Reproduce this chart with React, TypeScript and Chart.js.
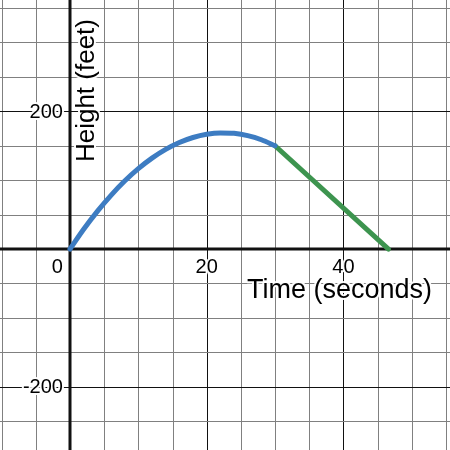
import React, { useEffect, useRef } from "react";
import { Chart, registerables } from "chart.js";

Chart.register(...registerables);

// Blue curve (rising/arc part): time (s) and height (ft)
const blueTime = [0, 2, 4, 6, 8, 10, 12, 14, 16, 18, 20, 22, 24, 26, 28, 30];
const blueHeight = [0, 28.7, 54.7, 78, 98.7, 116.7, 132, 144.7, 154.7, 162, 166.7, 168.7, 168, 164.7, 158.7, 150];
// Green line (descent)
const greenTime = [30, 46.6];
const greenHeight = [150, 0];

// Axis ranges and grid
const xRange = [-10.24, 55.6];
const yRange = [-291.9, 361.7];
const xGrid = [-10, -5, 0, 5, 10, 15, 20, 25, 30, 35, 40, 45, 50, 55];
const yGrid = [-250, -200, -150, -100, -50, 0, 50, 100, 150, 200, 250, 300, 350];
const xMajor = [-20, 0, 20, 40, 60];
const yMajor = [-200, 0, 200];
const xTickLabels = [20, 40];
const yTickLabels = [200, -200];
const xTitle = "Time (seconds)";
const yTitle = "Height (feet)";

const FONT = 'Arial, "Liberation Sans", sans-serif';

const gridPlugin = {
  id: "desmosGrid",
  beforeDatasetsDraw(chart: any) {
    const { ctx, chartArea } = chart;
    const xs = chart.scales.x;
    const ys = chart.scales.y;
    ctx.save();
    ctx.fillStyle = "#ffffff";
    ctx.fillRect(chartArea.left, chartArea.top, chartArea.right - chartArea.left, chartArea.bottom - chartArea.top);
    ctx.lineWidth = 1;
    for (const v of xGrid) {
      const p = Math.round(xs.getPixelForValue(v)) + 0.5;
      ctx.strokeStyle = xMajor.includes(v) ? "#111111" : "#808080";
      ctx.beginPath();
      ctx.moveTo(p, chartArea.top);
      ctx.lineTo(p, chartArea.bottom);
      ctx.stroke();
    }
    for (const v of yGrid) {
      const p = Math.round(ys.getPixelForValue(v)) + 0.5;
      ctx.strokeStyle = yMajor.includes(v) ? "#111111" : "#808080";
      ctx.beginPath();
      ctx.moveTo(chartArea.left, p);
      ctx.lineTo(chartArea.right, p);
      ctx.stroke();
    }
    // axes
    ctx.strokeStyle = "#111111";
    ctx.lineWidth = 3;
    const ax = Math.round(xs.getPixelForValue(0));
    const ay = Math.round(ys.getPixelForValue(0));
    ctx.beginPath();
    ctx.moveTo(ax, chartArea.top);
    ctx.lineTo(ax, chartArea.bottom);
    ctx.moveTo(chartArea.left, ay);
    ctx.lineTo(chartArea.right, ay);
    ctx.stroke();
    ctx.restore();
  },
  afterDatasetsDraw(chart: any) {
    const { ctx, chartArea } = chart;
    const xs = chart.scales.x;
    const ys = chart.scales.y;
    const ax = xs.getPixelForValue(0);
    const ay = ys.getPixelForValue(0);
    const label = (t: string, x: number, y: number, align: CanvasTextAlign, base: CanvasTextBaseline, size: number) => {
      ctx.font = `${size}px ${FONT}`;
      ctx.textAlign = align;
      ctx.textBaseline = base;
      ctx.lineJoin = "round";
      ctx.strokeStyle = "rgba(255,255,255,0.95)";
      ctx.lineWidth = 4;
      ctx.strokeText(t, x, y);
      ctx.fillStyle = "#000000";
      ctx.fillText(t, x, y);
    };
    ctx.save();
    for (const v of xTickLabels) {
      label(String(v), xs.getPixelForValue(v), ay + 8, "center", "top", 20);
    }
    label("0", ax - 7, ay + 8, "right", "top", 20);
    for (const v of yTickLabels) {
      label(v < 0 ? "-" + Math.abs(v) : String(v), ax - 7, ys.getPixelForValue(v) + 1, "right", "middle", 20);
    }
    // x title
    label(xTitle, chartArea.right - 18, ay + 49, "right", "alphabetic", 27);
    // y title
    ctx.save();
    ctx.translate(ax + 24, chartArea.top + 19);
    ctx.rotate(-Math.PI / 2);
    label(yTitle, 0, 0, "right", "alphabetic", 26);
    ctx.restore();
    ctx.restore();
  },
};

export default function App() {
  const ref = useRef<HTMLCanvasElement | null>(null);
  useEffect(() => {
    if (!ref.current) return;
    const chart = new Chart(ref.current, {
      type: "line",
      data: {
        datasets: [
          {
            data: blueTime.map((t, i) => ({ x: t, y: blueHeight[i] })),
            borderColor: "#3d7cc2",
            borderWidth: 5,
            pointRadius: 0,
            cubicInterpolationMode: "monotone",
            borderCapStyle: "round",
            fill: false,
          },
          {
            data: greenTime.map((t, i) => ({ x: t, y: greenHeight[i] })),
            borderColor: "#3d944f",
            borderWidth: 5,
            pointRadius: 0,
            borderCapStyle: "round",
            fill: false,
          },
        ],
      },
      options: {
        animation: false,
        responsive: true,
        maintainAspectRatio: false,
        layout: { padding: 0 },
        plugins: { legend: { display: false }, tooltip: { enabled: false } },
        scales: {
          x: { type: "linear", min: xRange[0], max: xRange[1], display: false },
          y: { type: "linear", min: yRange[0], max: yRange[1], display: false },
        },
      },
      plugins: [gridPlugin],
    } as any);
    return () => chart.destroy();
  }, []);
  return (
    <div style={{ position: "fixed", left: 0, top: 0, width: 450, height: 450, background: "#fff" }}>
      <canvas ref={ref} />
    </div>
  );
}
